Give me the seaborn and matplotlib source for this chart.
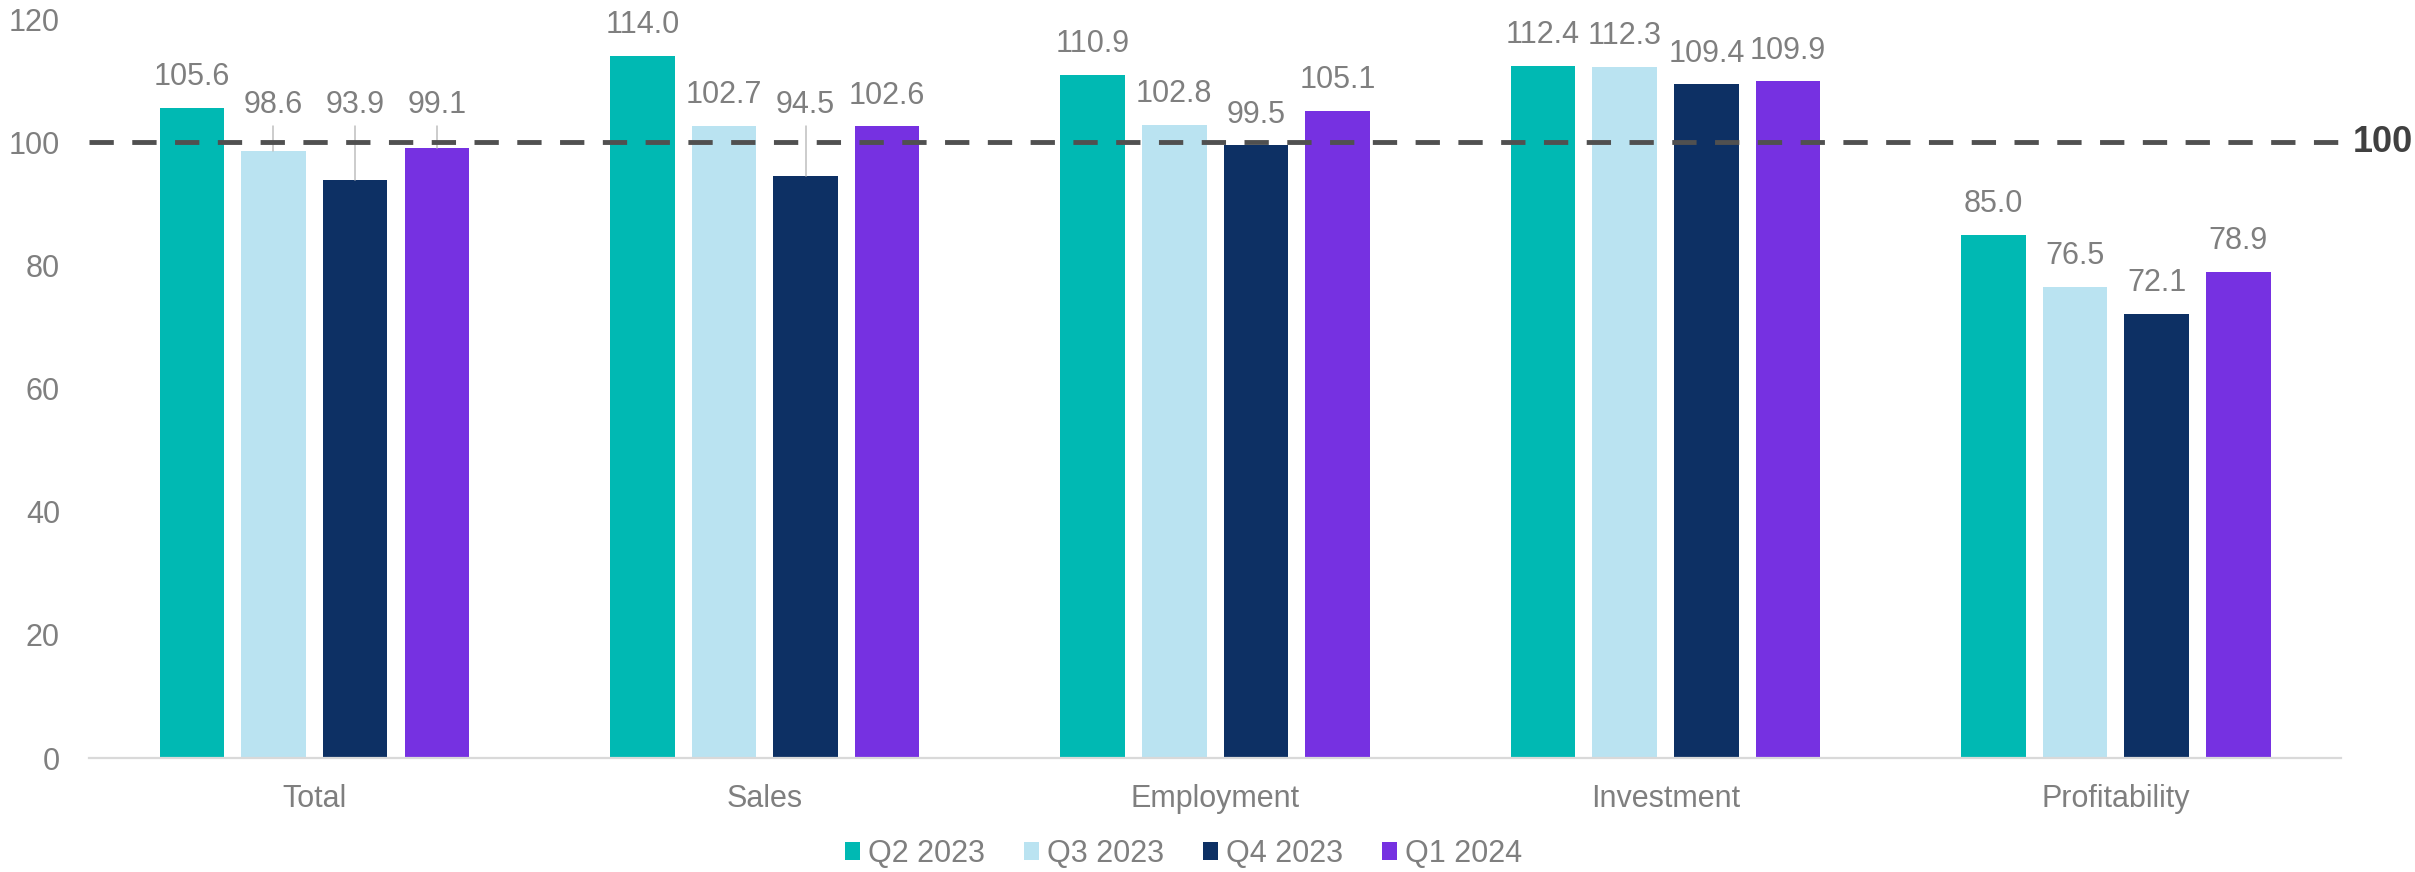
import matplotlib
matplotlib.use("Agg")
import matplotlib.pyplot as plt
import matplotlib.transforms as mtransforms
from matplotlib.patches import Patch
import seaborn as sns
import pandas as pd

# ---- data ----
categories = ["Total", "Sales", "Employment", "Investment", "Profitability"]
quarters = ["Q2 2023", "Q3 2023", "Q4 2023", "Q1 2024"]
q2_2023 = [105.6, 114.0, 110.9, 112.4, 85.0]
q3_2023 = [98.6, 102.7, 102.8, 112.3, 76.5]
q4_2023 = [93.9, 94.5, 99.5, 109.4, 72.1]
q1_2024 = [99.1, 102.6, 105.1, 109.9, 78.9]
reference_level = 100
yticks = [0, 20, 40, 60, 80, 100, 120]

colors = ["#00B9B3", "#BAE3F1", "#0D3064", "#7631E1"]
text_gray = "#7F7F7F"

series = [q2_2023, q3_2023, q4_2023, q1_2024]
rows = []
for q, vals in zip(quarters, series):
    for c, v in zip(categories, vals):
        rows.append({"category": c, "quarter": q, "value": v})
df = pd.DataFrame(rows)

sns.set_theme(style="white")
plt.rcParams["font.family"] = ["Liberation Sans", "DejaVu Sans"]

fig = plt.figure(figsize=(24.15, 8.72), dpi=100)
ax = fig.add_axes([0.0369, 0.1307, 0.9325, 0.8473])

sns.barplot(data=df, x="category", y="value", hue="quarter", order=categories,
            hue_order=quarters, palette=colors, width=0.725, gap=0.21,
            saturation=1, linewidth=0, legend=False, errorbar=None, ax=ax)

ax.set_xlim(-0.5, len(categories) - 0.5)
ax.set_ylim(0, 120)
ax.set_yticks(yticks)
ax.set_xlabel("")
ax.set_ylabel("")

for s in ["top", "right", "left"]:
    ax.spines[s].set_visible(False)
ax.spines["bottom"].set_color("#D9D9D9")
ax.spines["bottom"].set_linewidth(1.6)

ax.tick_params(axis="y", length=0, pad=21, labelsize=22, labelcolor=text_gray)
ax.tick_params(axis="x", which="major", length=0, pad=19, labelsize=22, labelcolor=text_gray)
ax.set_xticks([i - 0.5 for i in range(len(categories) + 1)], minor=True)
ax.tick_params(axis="x", which="minor", length=7, width=1, color="#D9D9D9")

# reference dashed line
ax.axhline(reference_level, color="#505050", lw=3.5, dashes=(5, 3.8), zorder=5)
trans = mtransforms.blended_transform_factory(ax.transAxes, ax.transData)
ax.text(1.0053, reference_level, str(reference_level), transform=trans, ha="left",
        va="center", fontsize=26, fontweight="bold", color="#404040")

# value labels (labels just under the reference line are lifted above it with a leader)
for cont in ax.containers:
    for bar in cont:
        h = bar.get_height()
        xc = bar.get_x() + bar.get_width() / 2
        if reference_level - 7 < h < reference_level - 0.7:
            ly = 106.0
            ax.plot([xc, xc], [h, 102.6], color="#BFBFBF", lw=1.1, zorder=4)
        else:
            ly = h + 5.0
        ax.text(xc, ly, f"{h:.1f}", ha="center", va="center", fontsize=22,
                color=text_gray, zorder=6)

handles = [Patch(facecolor=c, edgecolor="none", label=q) for c, q in zip(colors, quarters)]
fig.legend(handles=handles, loc="center", bbox_to_anchor=(0.49, 0.021), ncol=4,
           frameon=False, fontsize=22, labelcolor=text_gray, handlelength=0.5,
           handleheight=0.5, handletextpad=0.25, columnspacing=1.28, borderaxespad=0)

fig.savefig("out.png", dpi=100)
